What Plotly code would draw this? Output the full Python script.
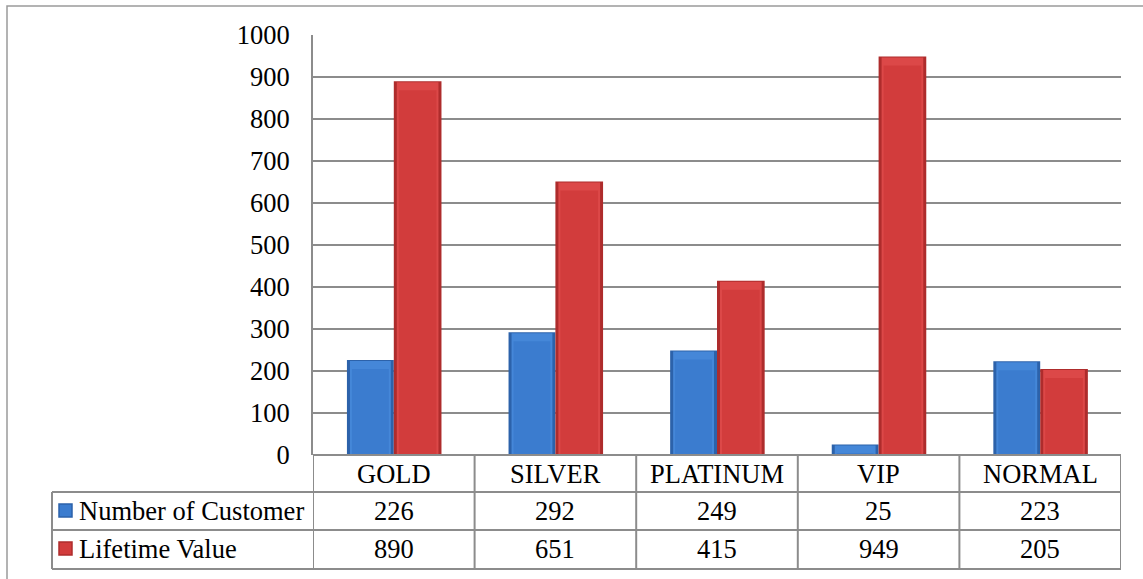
import plotly.graph_objects as go

# Customer segments and their figures
categories = ["GOLD", "SILVER", "PLATINUM", "VIP", "NORMAL"]
customers = [226, 292, 249, 25, 223]
lifetime_value = [890, 651, 415, 949, 205]
series_names = ["Number of Customer", "Lifetime Value"]
y_ticks = [0, 100, 200, 300, 400, 500, 600, 700, 800, 900, 1000]

W, H = 1143, 579
ML, MR, MT, MB = 313, 22, 35, 124
PW, PH = W - ML - MR, H - MT - MB
Y_MAX = 1000
FONT = "Liberation Serif, Times New Roman, serif"
FS = 26.5
GRID = "#8C8C8C"


def px_x(px):
    return (px - ML) / PW


def px_y(py):
    return (H - MB - py) / PH


unit_per_px = Y_MAX / PH          # data units per vertical pixel
cat_per_px = 1.0 / (PW / len(categories))  # category units per horizontal pixel

# (values, offset, width, edge, top band, body)
series = [
    (customers, -0.29, 0.29, "#2C62AA", "#4587D8", "#3B7CCF"),
    (lifetime_value, 0.0, 0.295, "#AE2C2C", "#DC4848", "#D23C3C"),
]

fig = go.Figure()
for vals, off, w, edge, top, body in series:
    # outer bevel edge
    fig.add_trace(go.Bar(x=categories, y=vals, offset=off, width=w,
                         marker=dict(color=edge, line=dict(width=0))))
    # lighter top band
    ins = 3 * cat_per_px
    fig.add_trace(go.Bar(x=categories, y=[max(v - 1 * unit_per_px, 0) for v in vals],
                         offset=off + ins, width=w - 2 * ins,
                         marker=dict(color=top, line=dict(width=0))))
    # main face
    ins = 5 * cat_per_px
    fig.add_trace(go.Bar(x=categories, y=[max(v - 9 * unit_per_px, 0) for v in vals],
                         offset=off + ins, width=w - 2 * ins,
                         marker=dict(color=body, line=dict(width=0))))

shapes = []
line = dict(color=GRID, width=2)

# outer chart border
shapes.append(dict(type="rect", xref="paper", yref="paper",
                   x0=px_x(7), x1=px_x(1160), y0=px_y(600), y1=px_y(6),
                   line=dict(color="#9A9A9A", width=1.5), layer="below"))

# data table grid
row_lines = [455, 492, 530, 569]
for i, py in enumerate(row_lines):
    x_left = px_x(313) if i == 0 else px_x(52)
    shapes.append(dict(type="line", xref="paper", yref="paper",
                       x0=x_left, x1=1.0, y0=px_y(py), y1=px_y(py), line=line))
for k in range(len(categories) + 1):
    shapes.append(dict(type="line", xref="x", yref="paper",
                       x0=k - 0.5, x1=k - 0.5, y0=px_y(455), y1=px_y(569), line=line))
shapes.append(dict(type="line", xref="paper", yref="paper",
                   x0=px_x(52), x1=px_x(52), y0=px_y(492), y1=px_y(569), line=line))

annotations = []
row_centers = [511, 549]
legend_colors = [("#2C62AA", "#3B7CCF"), ("#AE2C2C", "#D23C3C")]
for name, cy, (edge, body) in zip(series_names, row_centers, legend_colors):
    shapes.append(dict(type="rect", xref="paper", yref="paper",
                       x0=px_x(59), x1=px_x(72), y0=px_y(cy + 6), y1=px_y(cy - 7),
                       fillcolor=body, line=dict(color=edge, width=1.5)))
    annotations.append(dict(text=name, xref="paper", yref="paper",
                            x=px_x(77), y=px_y(cy), xanchor="left", yanchor="middle",
                            showarrow=False, font=dict(family=FONT, size=FS, color="black")))

for i, cat in enumerate(categories):
    annotations.append(dict(text=cat, xref="x", yref="paper", x=i, y=px_y(474),
                            xanchor="center", yanchor="middle", showarrow=False,
                            font=dict(family=FONT, size=FS, color="black")))
    for vals, cy in zip([customers, lifetime_value], row_centers):
        annotations.append(dict(text=str(vals[i]), xref="x", yref="paper", x=i, y=px_y(cy),
                                xanchor="center", yanchor="middle", showarrow=False,
                                font=dict(family=FONT, size=FS, color="black")))

fig.update_layout(
    width=W, height=H, autosize=False,
    margin=dict(l=ML, r=MR, t=MT, b=MB),
    paper_bgcolor="white", plot_bgcolor="white",
    barmode="overlay", showlegend=False, hovermode=False,
    shapes=shapes, annotations=annotations,
    xaxis=dict(type="category", range=[-0.5, len(categories) - 0.5],
               showticklabels=False, showgrid=False, zeroline=False, showline=False),
    yaxis=dict(range=[0, Y_MAX], tickvals=y_ticks, showgrid=True, gridcolor=GRID, gridwidth=2,
               zeroline=False, showline=True, linecolor=GRID, linewidth=2,
               ticks="", ticklabelstandoff=16,
               tickfont=dict(family=FONT, size=FS, color="black")),
)

fig.write_html("out.html")
